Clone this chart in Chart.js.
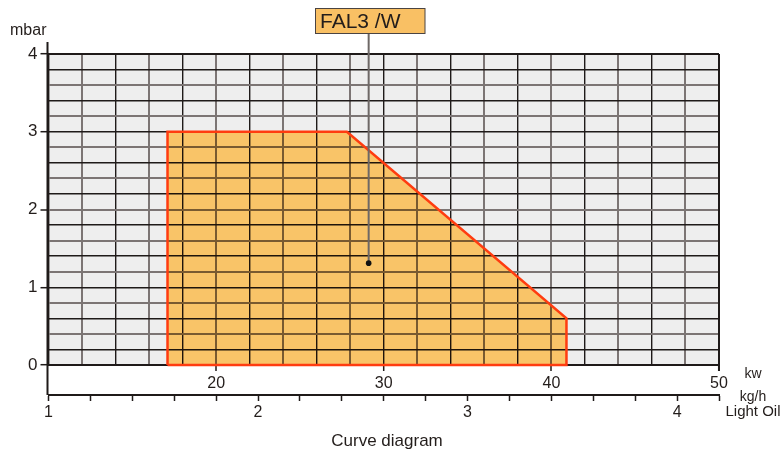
<!DOCTYPE html>
<html><head><meta charset="utf-8">
<script src="https://cdn.jsdelivr.net/npm/chart.js@4.4.0/dist/chart.umd.min.js"></script>
<style>html,body{margin:0;padding:0;background:#fff;}canvas{display:block;}</style>
</head><body><canvas id="c" width="782" height="454"></canvas>
<script>
// ---- data ----
const areaKw   = [17.1, 17.1, 27.8, 40.9, 40.9, 17.1];
const areaMbar = [0,    3,    3,    0.6,  0,    0];
const modelName = 'FAL3 /W';
const modelPointKw = [29.1];
const modelPointMbar = [1.31];
const kwTickLabels = [20, 30, 40, 50];
const kghTickLabels = [1, 2, 3, 4];
const mbarTickLabels = [0, 1, 2, 3, 4];
const kwRange = [10, 50];
const kghRange = [1, 4.2];
const mbarRange = [0, 4];
const unitKw = 'kw', unitKgh = 'kg/h', fuelName = 'Light Oil', unitMbar = 'mbar';
const chartTitle = 'Curve diagram';

// ---- styles ----
const FONT = "'Liberation Sans', Arial, sans-serif";
const DARK = '#1f1a19', GRAY = '#7c7574', TXT = '#231d1b';
const near = (a, b) => Math.abs(a - b) < 1e-6;

const areaPts = areaKw.map((x, i) => ({x, y: areaMbar[i]}));
const modelPts = modelPointKw.map((x, i) => ({x, y: modelPointMbar[i]}));

function gridColorX(ctx) {
  const v = ctx.tick.value;
  if (near(v, kwRange[0]) || near(v, kwRange[1])) return DARK;
  const i = Math.round((v - kwRange[0]) / 2);
  return i % 2 === 1 ? GRAY : DARK;
}
function gridWidthX(ctx) { return gridColorX(ctx) === GRAY ? 2 : 1.4; }
function gridColorY(ctx) {
  const v = ctx.tick.value;
  if (near(v, mbarRange[0]) || near(v, mbarRange[1])) return DARK;
  const i = Math.round(v * 5);
  return i % 2 === 0 ? GRAY : DARK;
}
function gridWidthY(ctx) { return gridColorY(ctx) === GRAY ? 2 : 1.4; }

// fill is multiplied over the grid, like the printed original
let multiplyOn = false;
const multiplyFill = {
  id: 'multiplyFill',
  beforeDatasetsDraw(chart) {
    chart.ctx.save();
    chart.ctx.globalCompositeOperation = 'multiply';
    multiplyOn = true;
  },
  beforeDatasetDraw(chart) {
    if (multiplyOn) { chart.ctx.restore(); multiplyOn = false; }
  }
};
try {
  const filler = Chart.registry.plugins.get('filler');
  Chart.unregister(filler);
  Chart.register(multiplyFill);
  Chart.register(filler);
} catch (e) {
  Chart.register(multiplyFill);
}

const decor = {
  id: 'decor',
  afterDraw(chart) {
    const {ctx, chartArea: a, scales} = chart;
    ctx.save();
    // plot background behind everything already drawn
    ctx.globalCompositeOperation = 'destination-over';
    ctx.fillStyle = '#eeeeee';
    ctx.fillRect(a.left, a.top, a.right - a.left, a.bottom - a.top);
    ctx.globalCompositeOperation = 'source-over';
    // axis lines
    ctx.strokeStyle = DARK; ctx.lineWidth = 2;
    ctx.beginPath();
    ctx.moveTo(a.left - 1, 42); ctx.lineTo(a.left - 1, scales.x2.top);
    ctx.moveTo(a.left, a.top); ctx.lineTo(a.right, a.top);
    ctx.moveTo(a.right, a.top); ctx.lineTo(a.right, a.bottom + 6);
    ctx.stroke();
    // connector + box
    const px = scales.x.getPixelForValue(modelPointKw[0]);
    const py = scales.y.getPixelForValue(modelPointMbar[0]);
    ctx.strokeStyle = '#6e6866'; ctx.lineWidth = 2;
    ctx.beginPath(); ctx.moveTo(px, 33); ctx.lineTo(px, py); ctx.stroke();
    ctx.fillStyle = '#f9c064';
    ctx.fillRect(315, 8, 110, 25.5);
    ctx.strokeStyle = '#4a4442'; ctx.lineWidth = 1;
    ctx.strokeRect(315.5, 8.5, 109.5, 25);
    ctx.fillStyle = TXT;
    ctx.font = '21px ' + FONT;
    ctx.textBaseline = 'middle'; ctx.textAlign = 'left';
    ctx.fillText(modelName, 320, 22);
    // dot on top
    ctx.beginPath(); ctx.arc(px, py, 2.8, 0, Math.PI * 2); ctx.fillStyle = '#111'; ctx.fill();
    // unit texts
    ctx.fillStyle = TXT;
    ctx.font = '16px ' + FONT; ctx.textAlign = 'left';
    ctx.fillText(unitMbar, 10, 31);
    ctx.font = '14px ' + FONT; ctx.textAlign = 'center';
    ctx.fillText(unitKw, 753, 374);
    ctx.fillText(unitKgh, 753, 397);
    ctx.font = '15px ' + FONT;
    ctx.fillText(fuelName, 753, 412);
    ctx.font = '17px ' + FONT;
    ctx.fillText(chartTitle, 387, 441);
    ctx.restore();
  }
};

new Chart(document.getElementById('c'), {
  type: 'scatter',
  data: {
    datasets: [{
      data: areaPts,
      showLine: true,
      borderColor: '#ff3c10',
      borderWidth: 2.5,
      backgroundColor: '#f9c468',
      fill: 'shape',
      pointRadius: 0,
      tension: 0,
      clip: false
    }, {
      data: modelPts,
      pointRadius: 0,
      backgroundColor: '#111'
    }]
  },
  plugins: [decor],
  options: {
    responsive: false,
    animation: false,
    layout: {padding: {top: 54, right: 63, bottom: 0, left: 0}},
    plugins: {legend: {display: false}, tooltip: {enabled: false},
              filler: {propagate: false, drawTime: 'beforeDatasetsDraw'}},
    scales: {
      x: {
        type: 'linear', position: 'bottom', min: kwRange[0], max: kwRange[1],
        afterFit: s => { s.height = 30; },
        ticks: {
          stepSize: 2, autoSkip: false, maxRotation: 0, padding: 3,
          color: TXT, font: {family: FONT, size: 16},
          callback: v => kwTickLabels.some(t => near(t, v)) ? String(Math.round(v)) : ''
        },
        grid: {
          color: gridColorX, lineWidth: gridWidthX, tickLength: 6,
          tickColor: c => kwTickLabels.some(t => near(t, c.tick.value)) ? DARK : 'rgba(0,0,0,0)',
          tickWidth: 1.5
        },
        border: {display: true, color: DARK, width: 2}
      },
      x2: {
        type: 'linear', position: 'bottom', min: kghRange[0], max: kghRange[1],
        afterFit: s => { s.height = 59; },
        ticks: {
          stepSize: 0.2, autoSkip: false, maxRotation: 0, padding: 2,
          color: TXT, font: {family: FONT, size: 16},
          callback: v => kghTickLabels.some(t => near(t, v)) ? String(Math.round(v)) : ''
        },
        grid: {drawOnChartArea: false, tickLength: 6, tickColor: DARK, tickWidth: 1.5, color: DARK},
        border: {display: true, color: DARK, width: 2}
      },
      y: {
        type: 'linear', min: mbarRange[0], max: mbarRange[1],
        afterFit: s => { s.width = 48.5; },
        ticks: {
          stepSize: 0.2, autoSkip: false, padding: 3,
          color: TXT, font: {family: FONT, size: 17},
          callback: v => mbarTickLabels.some(t => near(t, v)) ? String(Math.round(v)) : ''
        },
        grid: {
          color: gridColorY, lineWidth: gridWidthY, tickLength: 8,
          tickColor: c => mbarTickLabels.some(t => near(t, c.tick.value)) ? DARK : 'rgba(0,0,0,0)',
          tickWidth: 1.5
        },
        border: {display: false}
      }
    }
  }
});
</script>
</body></html>
